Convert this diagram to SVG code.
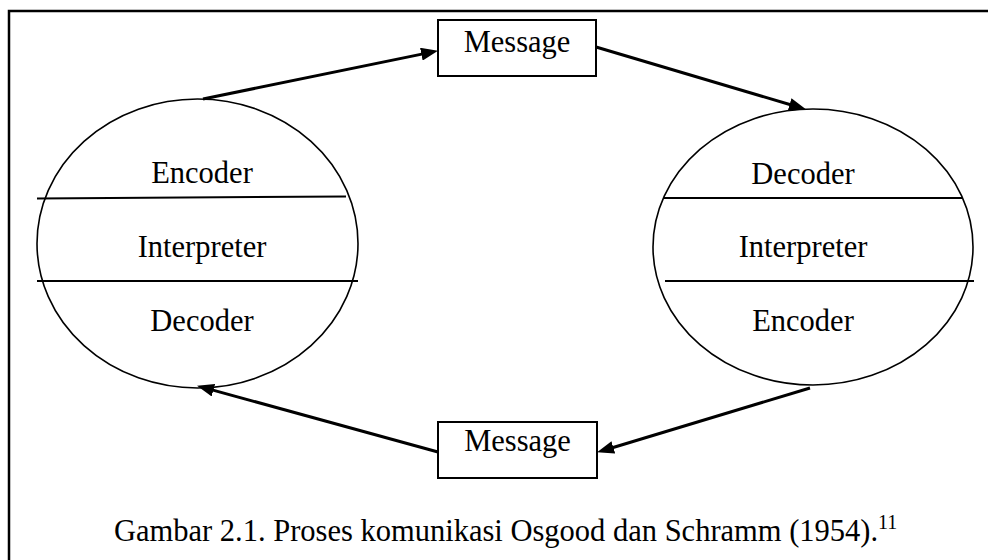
<svg xmlns="http://www.w3.org/2000/svg" width="988" height="560" viewBox="0 0 988 560">
  <style>
    .txt { font-family: "Liberation Serif", "Times New Roman", serif; font-size: 30.5px; fill: #000; text-anchor: middle; }
    .cap { font-family: "Liberation Serif", "Times New Roman", serif; font-size: 30.5px; fill: #000; }
    .sup { font-family: "Liberation Serif", "Times New Roman", serif; font-size: 20px; fill: #000; }
    .frame { fill: none; stroke: #000; stroke-width: 2.5; }
    .oval { fill: none; stroke: #000; stroke-width: 1.6; }
    .div { stroke: #000; stroke-width: 2; }
    .box { fill: #fff; stroke: #000; stroke-width: 2; }
    .arrow { fill: none; stroke: #000; stroke-width: 3; marker-end: url(#head); }
  </style>
  <defs>
    <marker id="head" markerUnits="userSpaceOnUse" markerWidth="17" markerHeight="13" refX="8" refY="6.5" orient="auto">
      <path d="M0,0 L17,6.5 L0,13 z" fill="#000"/>
    </marker>
  </defs>

  <rect width="988" height="560" fill="#fff"/>

  <!-- page frame (open to the right and bottom) -->
  <path class="frame" d="M9,560 V11 H988"/>

  <!-- left participant -->
  <g id="left-person">
    <ellipse class="oval" cx="197.5" cy="243.5" rx="160.5" ry="144.5"/>
    <line class="div" x1="37" y1="198.5" x2="346" y2="196.5"/>
    <line class="div" x1="37" y1="281" x2="358" y2="281"/>
    <text class="txt" x="202" y="183">Encoder</text>
    <text class="txt" x="202" y="257">Interpreter</text>
    <text class="txt" x="202" y="331">Decoder</text>
  </g>

  <!-- right participant -->
  <g id="right-person">
    <ellipse class="oval" cx="813" cy="247" rx="160" ry="138"/>
    <line class="div" x1="663" y1="198" x2="963" y2="198"/>
    <line class="div" x1="665" y1="281" x2="974" y2="281"/>
    <text class="txt" x="803" y="184">Decoder</text>
    <text class="txt" x="803" y="257">Interpreter</text>
    <text class="txt" x="803" y="331">Encoder</text>
  </g>

  <!-- message boxes -->
  <g id="message-top">
    <rect class="box" x="438" y="20" width="158" height="56"/>
    <text class="txt" x="517" y="52">Message</text>
  </g>
  <g id="message-bottom">
    <rect class="box" x="438" y="422" width="159" height="56"/>
    <text class="txt" x="517.5" y="451">Message</text>
  </g>

  <!-- connectors -->
  <g id="connectors">
    <line class="arrow" x1="203" y1="99" x2="429.2" y2="52.6"/>
    <line class="arrow" x1="596" y1="47" x2="797.3" y2="106.7"/>
    <line class="arrow" x1="810" y1="388" x2="605.7" y2="449.7"/>
    <line class="arrow" x1="438" y1="452" x2="205.7" y2="388.1"/>
  </g>

  <!-- caption -->
  <g id="caption">
    <text class="cap" x="114" y="541">Gambar 2.1. Proses komunikasi Osgood dan Schramm (1954).<tspan class="sup" dy="-12">11</tspan></text>
  </g>
</svg>
